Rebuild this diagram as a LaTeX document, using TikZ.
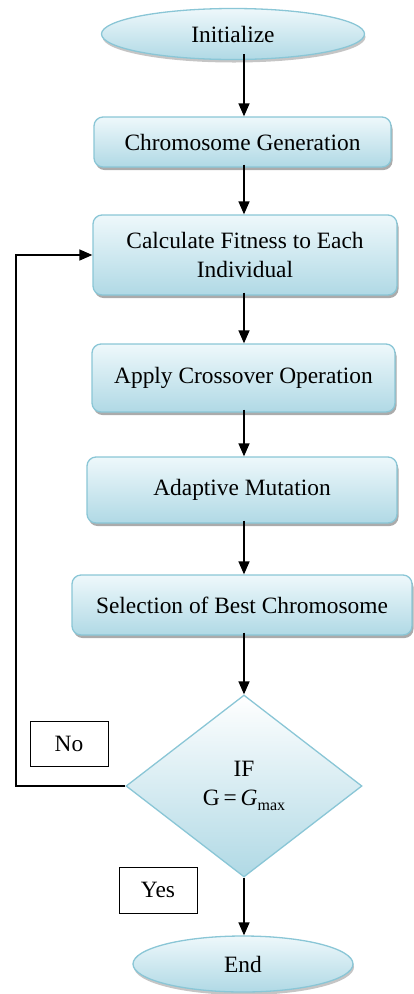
\documentclass[tikz,border=0pt]{standalone}
\usepackage{fontspec}
\setmainfont{Liberation Serif}
\usetikzlibrary{shapes.geometric,arrows.meta,shadows}
\definecolor{bdr}{RGB}{138,198,214}
\definecolor{topc}{RGB}{238,248,251}
\definecolor{botc}{RGB}{176,217,229}
\begin{document}
\begin{tikzpicture}[x=1pt,y=-1pt,
  every node/.style={font=\fontsize{23.4}{28.5}\selectfont, text=black},
  flowbox/.style={draw=bdr, line width=1.3pt, rounded corners=9pt, top color=topc, bottom color=botc, inner sep=0pt, align=center,
    drop shadow={shadow xshift=1.5pt, shadow yshift=-3pt, fill=black!55, opacity=0.6}},
  term/.style={ellipse, draw=bdr, line width=1.3pt, top color=topc, bottom color=botc, inner sep=0pt,
    drop shadow={shadow xshift=1pt, shadow yshift=-3pt, fill=black!45, opacity=0.5}},
  decide/.style={diamond, draw=bdr, line width=1.3pt, top color=white, bottom color=botc, inner sep=0pt, align=center},
  lbl/.style={draw=black, line width=0.9pt, fill=white, inner sep=0pt},
  arr/.style={line width=1.4pt, -{Triangle[length=13pt,width=11pt]}}
]
\useasboundingbox (0,0) rectangle (413,994);
\coordinate (cx) at (244,0);
\node[term, minimum width=263pt, minimum height=51pt] (init) at (233,34) {Initialize};
\node[flowbox, minimum width=297pt, minimum height=50pt] (cg) at (242.5,142) {Chromosome Generation};
\node[flowbox, minimum width=304pt, minimum height=80pt] (cf) at (245,255) {Calculate Fitness to Each\\Individual};
\node[flowbox, minimum width=303pt, minimum height=68pt] (ac) at (243.5,378) {Apply Crossover Operation};
\node[flowbox, minimum width=310pt, minimum height=66pt] (am) at (242,490) {Adaptive Mutation};
\node[flowbox, minimum width=340pt, minimum height=60pt] (sb) at (242,605) {Selection of Best Chromosome};
\node[decide, minimum width=236pt, minimum height=182pt] (dec) at (244,786)
  {IF\\G\,=\,\textit{G}{\fontsize{16}{16}\selectfont\raisebox{-5pt}{max}}};
\node[term, minimum width=220pt, minimum height=56pt] (end) at (243,964) {End};
\node[lbl, minimum width=78pt, minimum height=45pt] (no) at (69,743.5) {No};
\node[lbl, minimum width=78pt, minimum height=46pt] (yes) at (158,890) {Yes};
\coordinate (lc) at (16,0);
\draw[arr] ([yshift=6pt]init.south -| cx) -- (cg.north -| cx);
\draw[arr] ([yshift=3pt]cg.south -| cx) -- (cf.north -| cx);
\draw[arr] ([yshift=3pt]cf.south -| cx) -- (ac.north -| cx);
\draw[arr] ([yshift=3pt]ac.south -| cx) -- (am.north -| cx);
\draw[arr] ([yshift=3pt]am.south -| cx) -- (sb.north -| cx);
\draw[arr] ([yshift=3pt]sb.south -| cx) -- (dec.north);
\draw[arr] (dec.south) -- (end.north -| cx);
\draw[arr] (dec.west) -- (dec.west -| lc) -- (cf.west -| lc) -- (cf.west);
\end{tikzpicture}
\end{document}
